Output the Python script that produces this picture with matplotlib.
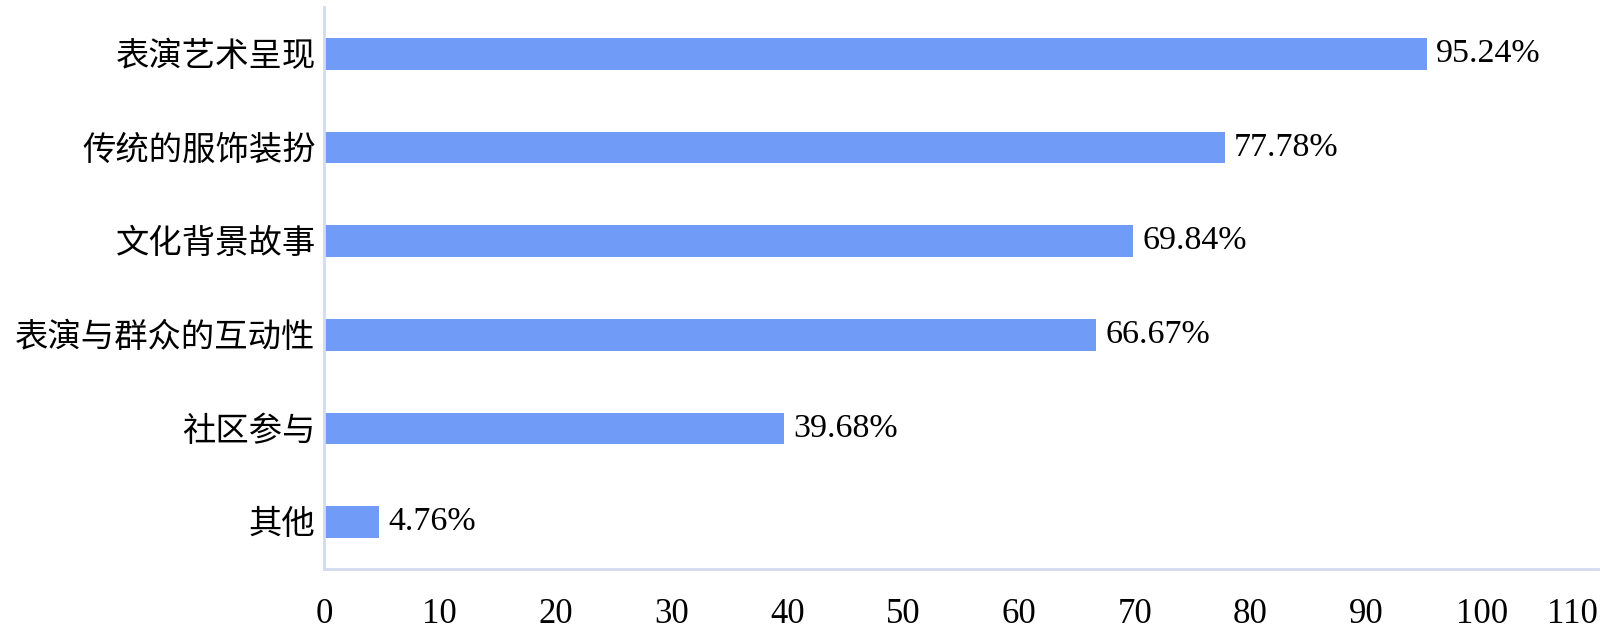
import matplotlib.pyplot as plt

plt.rcParams['font.family'] = ['Liberation Serif', 'Noto Sans CJK SC']

categories = ['表演艺术呈现', '传统的服饰装扮', '文化背景故事', '表演与群众的互动性', '社区参与', '其他']
values = [95.24, 77.78, 69.84, 66.67, 39.68, 4.76]
x_ticks = [0, 10, 20, 30, 40, 50, 60, 70, 80, 90, 100, 110]

fig = plt.figure(figsize=(16, 6.36), dpi=100)
ax = fig.add_axes([324 / 1600, 1 - 569 / 636, (1598 - 324) / 1600, (569 - 7) / 636])

ypos = list(range(len(categories)))[::-1]
ax.barh(ypos, values, height=0.34, color='#709cf7')

for y, v in zip(ypos, values):
    ax.text(v + 0.8, y, f'{v:.2f}%', va='center', ha='left', fontsize=24.5)

ax.set_xlim(0, 110)
ax.set_ylim(-0.5, 5.5)
ax.set_yticks(ypos)
ax.set_yticklabels(categories, fontsize=24)
ax.set_xticks(x_ticks)
ax.set_xticklabels([str(t) for t in x_ticks], fontsize=25)
ax.get_xticklabels()[-1].set_horizontalalignment('right')
ax.tick_params(axis='both', length=0)
ax.tick_params(axis='x', pad=21)
ax.tick_params(axis='y', pad=6)

for s in ['top', 'right']:
    ax.spines[s].set_visible(False)
for s in ['left', 'bottom']:
    ax.spines[s].set_color('#d3dbef')
    ax.spines[s].set_linewidth(2)

fig.savefig('out.png', dpi=100)
